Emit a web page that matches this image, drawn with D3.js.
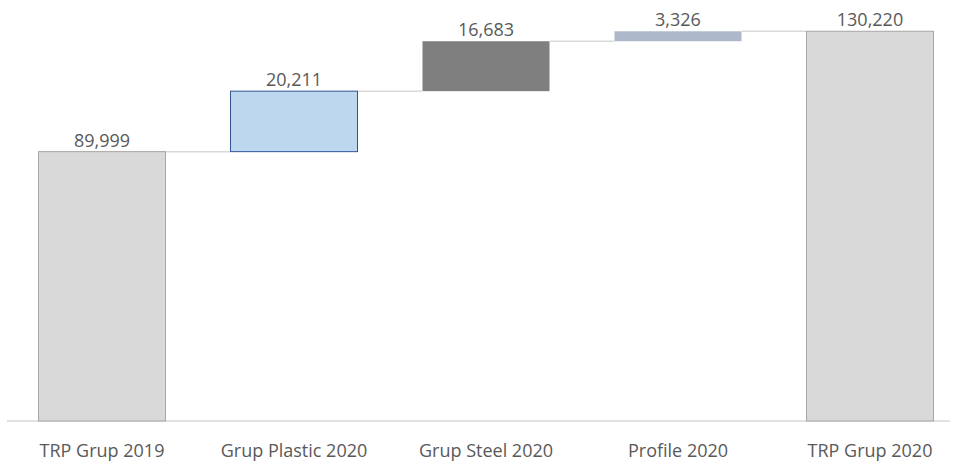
<!DOCTYPE html>
<html>
<head>
<meta charset="utf-8">
<script src="https://cdn.jsdelivr.net/npm/d3@7"></script>
<style>
  body { margin: 0; background: #fff; }
  text { font-family: 'Open Sans', sans-serif; fill: #595959; }
</style>
</head>
<body>
<div id="chart"></div>
<script>
const categories = ['TRP Grup 2019', 'Grup Plastic 2020', 'Grup Steel 2020', 'Profile 2020', 'TRP Grup 2020']
const values = [89999, 20211, 16683, 3326, 130220]
const kinds = ['total', 'step', 'step', 'step', 'total']
const fills = ['#d9d9d9', '#bdd7ee', '#7f7f7f', '#adb9ca', '#d9d9d9']
const strokes = ['#a6a6a6', '#2f5597', 'none', 'none', '#a6a6a6']

const width = 954
const height = 461

// build start/end of every bar from the running total
let running = 0
const data = categories.map((c, i) => {
  let start, end
  if (kinds[i] === 'total') {
    start = 0
    end = values[i]
    running = values[i]
  } else {
    start = running
    end = running + values[i]
    running = end
  }
  return { name: c, value: values[i], start, end, fill: fills[i], stroke: strokes[i] }
})

const svg = d3.select('#chart')
  .append('svg')
  .attr('width', width)
  .attr('height', height)

const x = d3.scaleBand()
  .domain(categories)
  .range([38, 934])
  .paddingInner(1 / 3)
  .paddingOuter(0)

const y = d3.scaleLinear()
  .domain([0, 140000])
  .range([421, 2])

// baseline
svg.append('line')
  .attr('x1', 7)
  .attr('x2', 950)
  .attr('y1', y(0))
  .attr('y2', y(0))
  .attr('stroke', '#d9d9d9')
  .attr('stroke-width', 1.5)

// connectors
svg.append('g')
  .selectAll('line')
  .data(data.slice(0, -1))
  .join('line')
  .attr('x1', d => x(d.name) + x.bandwidth())
  .attr('x2', (d, i) => x(data[i + 1].name))
  .attr('y1', d => y(d.end))
  .attr('y2', d => y(d.end))
  .attr('stroke', '#d9d9d9')
  .attr('stroke-width', 1.5)

// bars
svg.append('g')
  .selectAll('rect')
  .data(data)
  .join('rect')
  .attr('x', d => x(d.name) + 0.5)
  .attr('width', x.bandwidth() - 1)
  .attr('y', d => y(d.end))
  .attr('height', d => y(d.start) - y(d.end))
  .attr('fill', d => d.fill)
  .attr('stroke', d => d.stroke)
  .attr('stroke-width', 1)

// value labels
svg.append('g')
  .selectAll('text')
  .data(data)
  .join('text')
  .attr('x', d => x(d.name) + x.bandwidth() / 2)
  .attr('y', d => y(d.end) - 5)
  .attr('text-anchor', 'middle')
  .style('font-size', '18px')
  .text(d => d3.format(',')(d.value))

// category labels
const xAxis = d3.axisBottom(x).tickSize(0).tickPadding(0)
const xAxisG = svg.append('g')
  .attr('transform', `translate(0, ${y(0)})`)
  .call(xAxis)
xAxisG.select('.domain').remove()
xAxisG.selectAll('text')
  .attr('dy', null)
  .attr('y', 36)
  .style('font-size', '18px')
  .style('font-family', "'Open Sans', sans-serif")
  .attr('fill', '#595959')
</script>
</body>
</html>
